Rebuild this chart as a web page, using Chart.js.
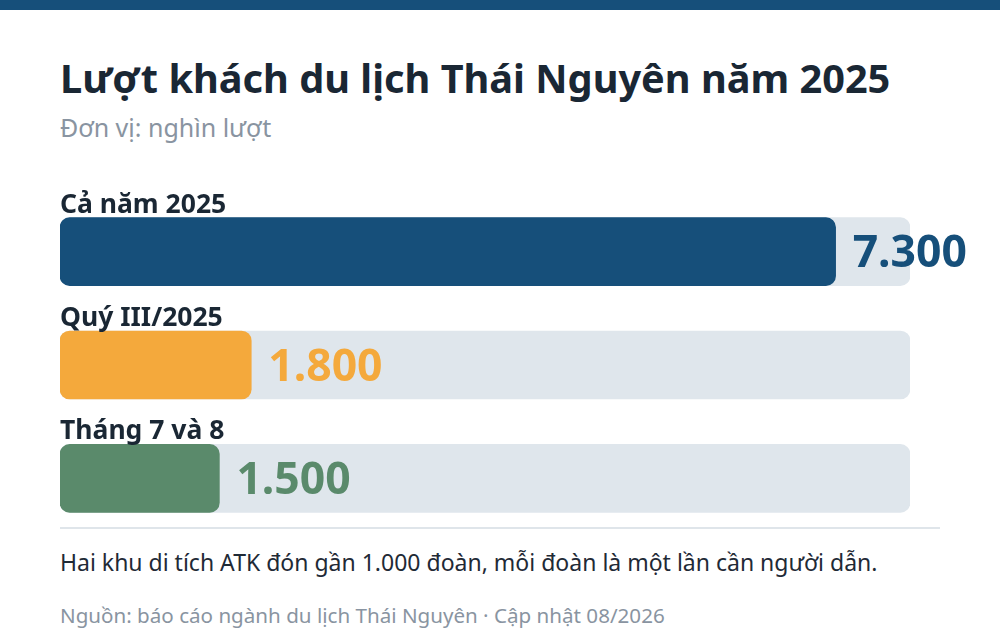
<!DOCTYPE html>
<html lang="vi">
<head>
<meta charset="utf-8">
<script src="https://cdn.jsdelivr.net/npm/chart.js@4.4.1/dist/chart.umd.min.js"></script>
<style>
  html, body { margin: 0; padding: 0; background: #fff; }
  body { width: 1000px; height: 640px; position: relative; overflow: hidden; font-family: "Noto Sans", sans-serif; }
  .topbar { position: absolute; left: 0; top: 0; width: 1000px; height: 10px; background: #164f7a; }
  h1 { position: absolute; left: 60px; top: 51px; margin: 0; font-size: 39.7px; font-weight: 700; color: #1a2734; white-space: nowrap; }
  .sub { position: absolute; left: 60px; top: 110px; font-size: 25px; color: #8994a1; }
  .chart-wrap { position: absolute; left: 0; top: 170px; width: 1000px; height: 365px; }
  .rule { position: absolute; left: 60px; top: 527px; width: 880px; height: 2px; background: #dfe5ea; }
  .note { position: absolute; left: 60px; top: 546px; font-size: 23px; color: #1f2a36; white-space: nowrap; }
  .source { position: absolute; left: 60px; top: 601px; font-size: 20.6px; color: #8994a1; white-space: nowrap; }
</style>
</head>
<body>
<div class="topbar"></div>
<h1>Lượt khách du lịch Thái Nguyên năm 2025</h1>
<div class="sub">Đơn vị: nghìn lượt</div>
<div class="chart-wrap"><canvas id="chart"></canvas></div>
<div class="rule"></div>
<div class="note">Hai khu di tích ATK đón gần 1.000 đoàn, mỗi đoàn là một lần cần người dẫn.</div>
<div class="source">Nguồn: báo cáo ngành du lịch Thái Nguyên · Cập nhật 08/2026</div>

<script>
// ============================================
// Data
// ============================================

const categories = ['Cả năm 2025', 'Quý III/2025', 'Tháng 7 và 8'];
const visitors = [7300, 1800, 1500];
const barColors = ['#164f7a', '#f4a93c', '#5a8a6b'];
const scaleMax = 8000;

const trackColor = '#dfe6ec';

// ============================================
// Labels plugin: category names above, values after bars
// ============================================

const labelPlugin = {
  id: 'barLabels',
  afterDatasetsDraw(chart) {
    const ctx = chart.ctx;
    const meta = chart.getDatasetMeta(1);
    ctx.save();
    meta.data.forEach((bar, i) => {
      const top = bar.y - bar.height / 2;
      ctx.fillStyle = '#1a2734';
      ctx.font = '700 26.5px "Noto Sans"';
      ctx.textAlign = 'left';
      ctx.textBaseline = 'alphabetic';
      ctx.fillText(categories[i], chart.scales.x.getPixelForValue(0), top - 5);

      ctx.fillStyle = barColors[i];
      ctx.font = '700 44.5px "Noto Sans"';
      ctx.textBaseline = 'middle';
      ctx.fillText(visitors[i].toLocaleString('vi-VN'), bar.x + 17, bar.y + 3);
    });
    ctx.restore();
  }
};

// ============================================
// Chart
// ============================================

new Chart(document.getElementById('chart'), {
  type: 'bar',
  data: {
    labels: categories,
    datasets: [
      {
        label: 'track',
        data: categories.map(() => scaleMax),
        backgroundColor: trackColor,
        borderRadius: 10,
        borderSkipped: false,
        barThickness: 68,
        grouped: false,
        order: 2
      },
      {
        label: 'Lượt khách',
        data: visitors,
        backgroundColor: barColors,
        borderRadius: 10,
        borderSkipped: false,
        barThickness: 68,
        grouped: false,
        order: 1
      }
    ]
  },
  options: {
    indexAxis: 'y',
    responsive: true,
    maintainAspectRatio: false,
    animation: false,
    layout: { padding: { left: 60, right: 90, top: 25, bottom: 0 } },
    plugins: {
      legend: { display: false },
      tooltip: { enabled: false }
    },
    scales: {
      x: { display: false, min: 0, max: scaleMax },
      y: { display: false }
    }
  },
  plugins: [labelPlugin]
});
</script>
</body>
</html>
